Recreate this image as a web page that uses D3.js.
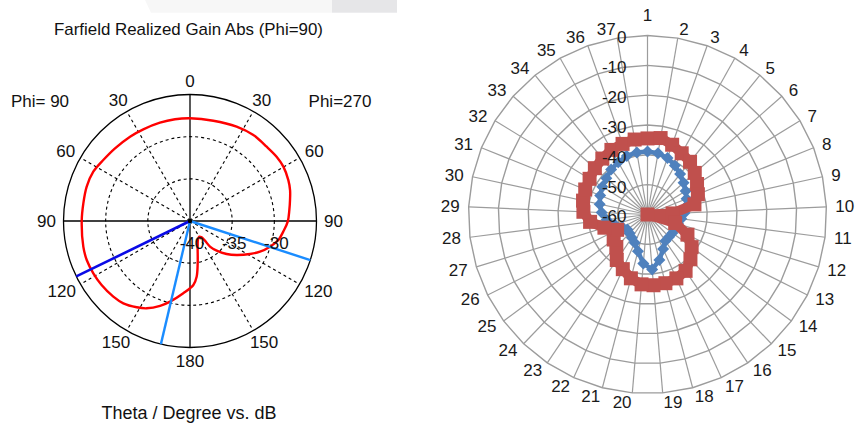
<!DOCTYPE html>
<html><head><meta charset="utf-8">
<script src="https://cdn.jsdelivr.net/npm/d3@7"></script>
<style>body{margin:0;background:#fff}svg{display:block}</style>
</head><body>
<svg id="c" width="858" height="423"></svg>
<script>
// ---------- Left chart: Farfield Realized Gain Abs (Phi=90) ----------
// plot angle (deg, clockwise from top; right half = Phi 270, left half = Phi 90)
const farAngle = [0,13.1,26.3,36.4,45.9,53.4,59.8,67.4,72.8,78.1,83.7,90.4,96.5,102.1,107.8,113.7,118.8,126.1,132,138,142,142.7,144.5,149.2,156.4,163.4,169.7,173.2,177,185.3,193.9,199.4,206.4,211.7,219,225.4,234.1,241.6,249.3,256.5,270,279.4,288.4,297,305.1,314.1,324.6,333,343,351.6];
const farGain  = [-27.82,-27.79,-27.53,-27.34,-27.34,-27.21,-27.19,-27.37,-27.58,-27.88,-28.15,-28.41,-28.87,-29.28,-30.04,-30.94,-31.88,-33.16,-34.15,-35.27,-36.15,-37.07,-37.62,-37.84,-37.63,-36.82,-34.90,-33.35,-32.40,-31.39,-30.15,-29.32,-28.44,-27.98,-27.44,-27.23,-27.06,-26.97,-26.91,-26.99,-27.16,-27.18,-27.09,-27.13,-27.43,-27.62,-27.73,-27.80,-27.81,-27.81];
const mainLobeAngle = [244];
const halfPowerAngles = [108, 193.3];
const farAngleTicks = [0,30,60,90,120,150,180,210,240,270,300,330];
const farAngleLabels = ["0","30","60","90","120","150","180","150","120","90","60","30"];
const farRingTicks = [-35,-30];
const farRadialLabels = [-40,-35,-30];
const farDomain = [-40,-25];

// ---------- Right chart: radar ----------
const categories = ["1","2","3","4","5","6","7","8","9","10","11","12","13","14","15","16","17","18","19","20","21","22","23","24","25","26","27","28","29","30","31","32","33","34","35","36","37"];
const seriesBlue = [-38.9,-39.2,-39.9,-41.2,-42.6,-43.9,-45.0,-45.9,-46.6,-47.6,-48.6,-49.3,-49.6,-49.6,-49.6,-49.3,-47.3,-44.2,-41.5,-43.5,-47.3,-49.6,-50.6,-51.3,-51.6,-50.6,-48.5,-46.2,-44.6,-43.6,-42.9,-42.2,-41.6,-40.6,-39.9,-39.2,-38.9];
const seriesRed  = [-34.5,-34.0,-35.2,-36.5,-37.3,-38.9,-40.5,-41.8,-43.9,-51.6,-60.0,-50.3,-45.0,-41.6,-39.2,-37.2,-36.5,-36.2,-36.2,-36.5,-37.9,-39.9,-41.6,-44.9,-45.9,-48.6,-44.9,-40.6,-38.5,-37.9,-37.5,-37.2,-36.5,-35.9,-35.2,-34.9,-34.5];
const radarTicks = [0,-10,-20,-30,-40,-50,-60];

const svg = d3.select("#c");
const rad = d => d * Math.PI / 180;

// faint band at top (screenshot artefact)
svg.append("polygon").attr("points","145,0 332,0 332,12.7 151,12.7").attr("fill","#f7f7f7");
svg.append("rect").attr("x",332).attr("y",0).attr("width",65).attr("height",12.7).attr("fill","#e6e6e8");

// ================= LEFT =================
const L = {cx:190, cy:221, R:126.5};
const rL = d3.scaleLinear().domain(farDomain).range([0, L.R]);
const gL = svg.append("g").attr("transform",`translate(${L.cx},${L.cy})`);
const fontL = "'Liberation Sans', Arial, sans-serif";

gL.selectAll("circle.ring").data(farRingTicks).join("circle")
  .attr("r", d => rL(d)).attr("fill","none").attr("stroke","#000")
  .attr("stroke-width",1.1).attr("stroke-dasharray","3,3");
gL.selectAll("line.spoke").data(farAngleTicks.filter(a => a % 90 !== 0)).join("line")
  .attr("x1",0).attr("y1",0)
  .attr("x2", a => L.R*Math.sin(rad(a))).attr("y2", a => -L.R*Math.cos(rad(a)))
  .attr("stroke","#000").attr("stroke-width",1.1).attr("stroke-dasharray","3,3");
gL.selectAll("line.axis").data([0,90]).join("line")
  .attr("x1", a => -L.R*Math.sin(rad(a))).attr("y1", a => L.R*Math.cos(rad(a)))
  .attr("x2", a => L.R*Math.sin(rad(a))).attr("y2", a => -L.R*Math.cos(rad(a)))
  .attr("stroke","#000").attr("stroke-width",1.3);
gL.append("circle").attr("r", rL(farDomain[1])).attr("fill","none").attr("stroke","#000").attr("stroke-width",1.3);

const farLine = d3.lineRadial()
  .angle((d,i) => rad(farAngle[i])).radius(d => rL(d))
  .curve(d3.curveCatmullRomClosed.alpha(0.5));
gL.append("path").datum(farGain).attr("d", farLine)
  .attr("fill","none").attr("stroke","#ff0000").attr("stroke-width",2.4);

gL.selectAll("line.hp").data(halfPowerAngles).join("line")
  .attr("x1",0).attr("y1",0)
  .attr("x2", a => L.R*Math.sin(rad(a))).attr("y2", a => -L.R*Math.cos(rad(a)))
  .attr("stroke","#1a8cff").attr("stroke-width",2.4);
gL.selectAll("line.main").data(mainLobeAngle).join("line")
  .attr("x1",0).attr("y1",0)
  .attr("x2", a => L.R*Math.sin(rad(a))).attr("y2", a => -L.R*Math.cos(rad(a)))
  .attr("stroke","#0a0ae6").attr("stroke-width",2.6);
gL.append("circle").attr("r",2.2).attr("fill","#000");

// radial labels
gL.selectAll("text.rl").data(farRadialLabels).join("text")
  .attr("x", d => rL(d) + 2).attr("y", 22).attr("dy","0.35em")
  .attr("text-anchor","middle").attr("font-family",fontL).attr("font-size",17)
  .attr("fill","#111").text(d => d);

// angle labels
gL.selectAll("text.al").data(farAngleTicks).join("text")
  .attr("font-family",fontL).attr("font-size",17).attr("fill","#111")
  .attr("text-anchor","middle").attr("dy","0.35em")
  .text((d,i) => farAngleLabels[i])
  .each(function(a){
    const bb = this.getBBox();
    const s = Math.sin(rad(a)), c = Math.cos(rad(a));
    const g = 7.5;
    d3.select(this).attr("x", (L.R+g)*s + s*bb.width/2).attr("y", -(L.R+g)*c - c*12/2);
  });

svg.append("text").attr("x",188.5).attr("y",35).attr("text-anchor","middle")
  .attr("font-family",fontL).attr("font-size",17).attr("fill","#111")
  .attr("textLength",269).attr("lengthAdjust","spacingAndGlyphs")
  .text("Farfield Realized Gain Abs (Phi=90)");
svg.append("text").attr("x",40).attr("y",107).attr("text-anchor","middle")
  .attr("font-family",fontL).attr("font-size",17).attr("fill","#111").text("Phi= 90");
svg.append("text").attr("x",340).attr("y",107).attr("text-anchor","middle")
  .attr("font-family",fontL).attr("font-size",17).attr("fill","#111").text("Phi=270");
svg.append("text").attr("x",189).attr("y",419).attr("text-anchor","middle")
  .attr("font-family",fontL).attr("font-size",17.5).attr("fill","#111")
  .attr("textLength",175).attr("lengthAdjust","spacingAndGlyphs")
  .text("Theta / Degree vs. dB");

// ================= RIGHT =================
const P = {cx:647.5, cy:214.5, R:179};
const rR = d3.scaleLinear().domain([radarTicks[radarTicks.length-1], radarTicks[0]]).range([0, P.R]);
const aR = d3.scaleLinear().domain([0, categories.length]).range([0, 2*Math.PI]);
const gR = svg.append("g").attr("transform",`translate(${P.cx},${P.cy})`);
const fontR = "'Liberation Sans', Arial, sans-serif";
const gridCol = "#9c9c9c";

const ringLine = d3.lineRadial().angle((d,i) => aR(i)).radius(d => d).curve(d3.curveLinearClosed);
gR.selectAll("path.grid").data(radarTicks.filter(t => rR(t) > 0)).join("path")
  .attr("d", t => ringLine(categories.map(() => rR(t))))
  .attr("fill","none").attr("stroke",gridCol).attr("stroke-width",1.4);
gR.selectAll("line.sp").data(categories).join("line")
  .attr("x1",0).attr("y1",0)
  .attr("x2",(d,i) => P.R*Math.sin(aR(i))).attr("y2",(d,i) => -P.R*Math.cos(aR(i)))
  .attr("stroke",gridCol).attr("stroke-width",1.2);

const serLine = d3.lineRadial().angle((d,i) => aR(i)).radius(d => rR(d)).curve(d3.curveLinearClosed);
const px = (v,i) => rR(v)*Math.sin(aR(i));
const py = (v,i) => -rR(v)*Math.cos(aR(i));

// blue series
gR.append("path").datum(seriesBlue).attr("d", serLine)
  .attr("fill","none").attr("stroke","#4f81bd").attr("stroke-width",4.5).attr("stroke-linejoin","round");
gR.selectAll("path.bm").data(seriesBlue).join("path")
  .attr("d",(v,i) => { const x = px(v,i), y = py(v,i), h = 6;
    return `M${x},${y-h}L${x+h},${y}L${x},${y+h}L${x-h},${y}Z`; })
  .attr("fill","#4f81bd");

// red series
gR.append("path").datum(seriesRed).attr("d", serLine)
  .attr("fill","none").attr("stroke","#c0504d").attr("stroke-width",10);
gR.selectAll("rect.rm").data(seriesRed).join("rect")
  .attr("x",(v,i) => px(v,i) - 7).attr("y",(v,i) => py(v,i) - 7)
  .attr("width",14).attr("height",14).attr("fill","#c0504d");

// value axis labels
gR.selectAll("text.vl").data(radarTicks).join("text")
  .attr("x",-21).attr("y", t => -rR(t) + 2).attr("dy","0.35em")
  .attr("text-anchor","end").attr("font-family",fontR).attr("font-size",17)
  .attr("fill","#1a1a1a").text(t => t);

// category labels
gR.selectAll("text.cl").data(categories).join("text")
  .attr("font-family",fontR).attr("font-size",17).attr("fill","#1a1a1a").attr("dy","0.35em")
  .each(function(d,i){
    const a = aR(i), s = Math.sin(a), c = Math.cos(a);
    const vx = P.R*s, vy = -P.R*c;
    const anchor = s > 0.05 ? "start" : (s < -0.05 ? "end" : "middle");
    let y = vy - c*9;
    if (i === 0) y -= 11;
    d3.select(this).attr("x", vx + 9*s).attr("y", y).attr("text-anchor", anchor).text(d);
  });
</script>
</body></html>
